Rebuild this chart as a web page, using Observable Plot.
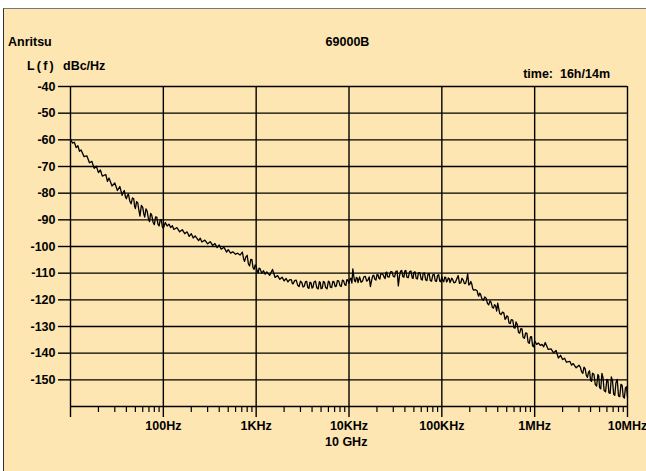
<!DOCTYPE html>
<html><head><meta charset="utf-8">
<script src="https://cdn.jsdelivr.net/npm/d3@7"></script>
<script src="https://cdn.jsdelivr.net/npm/@observablehq/plot@0.6"></script>
<style>
body{margin:0;background:#fff;width:646px;height:471px;overflow:hidden;position:relative;font-family:"Liberation Sans",Arial,Helvetica,sans-serif;}
#panel{position:absolute;left:3px;top:8px;width:643px;height:463px;background:#fde6b1;border-left:1.5px solid #333;border-top:1px solid #777;box-sizing:border-box}
.t{position:absolute;font-weight:bold;font-size:12.5px;line-height:15px;color:#000;white-space:pre}
#chart{position:absolute;left:0;top:9px}
</style></head><body>
<div id="panel"></div>
<div id="chart"></div>
<div class="t" style="left:8px;top:34.7px">Anritsu</div>
<div class="t" style="left:300px;width:95px;text-align:center;top:35.2px">69000B</div>
<div class="t" style="left:27px;top:58.7px;letter-spacing:2.2px">L(f)</div>
<div class="t" style="left:63px;top:58.7px">dBc/Hz</div>
<div class="t" style="right:36px;top:67.2px">time:  16h/14m</div>
<div class="t" style="left:325px;top:435.2px">10 GHz</div>
<script>
// Offset frequency (Hz) - main sweep points
const freqHz = [
  10,10.5,11,11.5,12,12.5,13,14,15,16,17,18,19,20,21,22,24,25,26,28,30,32,34,36,38,40,42,45,48,50,53,56,60,63,67,71,75,80,85,90,95,
  100,105,110,115,120,125,130,140,150,160,170,180,190,200,210,220,240,250,260,280,300,320,340,360,380,400,420,450,480,500,530,560,600,630,670,710,750,800,850,900,950,
  1000,1050,1100,1150,1200,1250,1300,1400,1500,1600,1700,1800,1900,2000,2100,2200,2400,2500,2600,2800,3000,3200,3400,3600,3800,4000,4200,4500,4800,5000,5300,5600,6000,6300,6700,7100,7500,8000,8500,9000,9500,
  10000,10500,11000,11500,12000,12500,13000,14000,15000,16000,17000,18000,19000,20000,21000,22000,24000,25000,26000,28000,30000,32000,34000,36000,38000,40000,42000,45000,48000,50000,53000,56000,60000,63000,67000,71000,75000,80000,85000,90000,95000,
  100000,105000,110000,115000,120000,125000,130000,140000,150000,160000,170000,180000,190000,200000,210000,220000,240000,250000,260000,280000,300000,320000,340000,360000,380000,400000,420000,450000,480000,500000,530000,560000,600000,630000,670000,710000,750000,800000,850000,900000,950000,
  1000000,1050000,1100000,1150000,1200000,1250000,1300000,1400000,1500000,1600000,1700000,1800000,1900000,2000000,2100000,2200000,2400000,2500000,2600000,2800000,3000000,3200000,3400000,3600000,3800000,4000000,4200000,4500000,4800000,5000000,5300000,5600000,6000000,6300000,6700000,7100000,7500000,8000000,8500000,9000000,9500000,
  10000000
];
// Single-sideband phase noise L(f) (dBc/Hz) at freqHz
const levelDbc = [
  -59.8,-61.2,-60.9,-62.9,-62.2,-64.3,-63.8,-66.3,-66.0,-68.6,-68.1,-70.7,-69.9,-72.3,-71.3,-73.6,-73.0,-75.6,-74.3,-77.3,-76.2,-79.0,-77.5,-80.8,-79.0,-82.1,-80.3,-84.0,-82.1,-85.8,-83.6,-88.6,-85.3,-89.0,-86.8,-90.7,-88.2,-91.8,-89.0,-92.3,-89.9,
  -93.2,-91.0,-92.3,-91.6,-92.9,-92.2,-93.6,-92.9,-94.5,-93.7,-95.2,-94.5,-96.2,-95.2,-96.8,-96.0,-97.8,-96.9,-98.3,-97.6,-99.0,-98.2,-99.6,-98.9,-100.4,-99.4,-101.0,-100.3,-102.1,-101.2,-102.5,-102.0,-102.9,-102.5,-103.2,-102.1,-105.6,-103.3,-107.3,-104.9,-108.6,
  -107.6,-109.9,-108.3,-110.0,-109.1,-110.4,-109.5,-110.8,-108.6,-111.6,-110.9,-112.3,-111.5,-112.9,-112.0,-113.3,-112.5,-114.0,-112.8,-114.5,-113.0,-115.2,-113.2,-115.4,-113.4,-115.6,-113.3,-115.5,-113.2,-115.8,-113.1,-115.4,-113.0,-115.2,-113.1,-115.0,-112.8,-114.7,-112.6,-114.3,-112.4,
  -113.8,-111.9,-108.4,-112.9,-111.6,-113.5,-111.4,-112.9,-111.2,-112.6,-115.0,-111.0,-112.3,-110.6,-111.9,-110.3,-111.6,-109.8,-111.3,-109.5,-111.2,-109.3,-114.8,-109.2,-111.3,-109.1,-111.5,-109.4,-111.8,-109.7,-112.0,-109.9,-112.3,-110.1,-112.5,-110.3,-112.7,-110.6,-112.9,-110.8,-113.0,
  -111.3,-113.2,-111.6,-112.8,-112.0,-112.9,-112.2,-113.4,-110.9,-113.6,-112.6,-113.9,-110.3,-114.2,-114.0,-116.4,-116.6,-118.6,-117.7,-120.2,-119.4,-121.9,-121.0,-123.1,-122.4,-121.2,-125.1,-124.6,-127.3,-126.0,-128.7,-127.4,-130.5,-128.3,-132.2,-130.8,-134.0,-132.4,-135.9,-133.9,-137.3,
  -135.4,-136.7,-136.2,-137.1,-136.7,-137.6,-136.0,-138.6,-138.4,-139.9,-139.0,-141.8,-140.8,-142.4,-141.9,-143.4,-143.1,-144.5,-143.9,-145.5,-144.5,-146.9,-145.2,-148.3,-147.2,-150.2,-147.5,-151.8,-148.0,-152.9,-147.6,-154.0,-149.8,-154.8,-148.9,-155.4,-151.2,-156.0,-151.7,-156.4,-153.0,
  -156.5
];
// Extra sweep points read in the noisy stretches of the trace
const extraFreqHz = [
  37,39,41,43.5,46.5,49,51.5,54.5,58,61.5,65,69,73,77.5,82.5,87.5,92.5,97.5,
  730,775,825,875,925,975,
  1025,1075,2300,2450,2700,2900,3100,3300,3500,3700,3900,4100,4350,4650,4900,5150,5450,5800,6150,6500,6900,7300,7750,8250,8750,9250,9750,
  10250,10750,11250,11750,12250,13500,14500,15500,16500,17500,18500,19500,20500,21500,23000,24500,25500,27000,29000,31000,33000,35000,37000,39000,41000,43500,46500,49000,51500,54500,58000,61500,65000,69000,73000,77500,82500,87500,92500,97500,
  102500,107500,112500,117500,122500,127500,135000,145000,155000,165000,175000,185000,195000,205000,215000,230000,245000,255000,270000,290000,310000,330000,350000,370000,390000,410000,435000,465000,490000,515000,545000,580000,615000,650000,690000,730000,775000,825000,875000,925000,975000,
  3100000,3300000,3500000,3700000,3900000,4100000,4350000,4650000,4900000,5150000,5450000,5800000,6150000,6500000,6900000,7300000,7750000,8250000,8750000,9250000,9750000
];
const extraLevelDbc = [
  -79.6,-81.3,-80.9,-82.9,-81.8,-84.9,-83.2,-86.4,-84.6,-87.7,-85.9,-89.5,-87.6,-90.9,-88.9,-91.6,-90.1,-92.6,
  -104.4,-103.9,-106.5,-104.8,-107.9,-106.9,
  -109.2,-108.1,-112.4,-113.9,-112.6,-115.0,-113.5,-114.9,-113.1,-115.7,-113.6,-115.2,-113.0,-115.9,-113.5,-115.6,-113.4,-115.9,-113.3,-115.4,-113.3,-114.9,-112.9,-115.0,-112.9,-114.6,-112.7,
  -112.2,-113.7,-111.1,-113.2,-111.8,-113.4,-111.3,-113.0,-111.4,-112.8,-110.8,-112.6,-110.6,-112.2,-110.2,-112.0,-109.6,-111.5,-109.4,-111.4,-109.2,-111.0,-109.0,-111.5,-109.0,-111.7,-109.2,-112.0,-109.5,-112.2,-109.8,-112.6,-109.9,-112.8,-110.1,-113.0,-110.4,-113.1,-110.6,-113.2,
  -112.8,-111.5,-113.3,-111.8,-113.5,-111.9,-113.6,-112.1,-113.8,-111.9,-113.9,-112.4,-114.4,-113.1,-115.8,-116.2,-118.0,-117.5,-119.6,-118.9,-121.3,-120.4,-122.8,-121.8,-124.2,-123.2,-125.5,-124.9,-127.0,-126.3,-128.9,-127.6,-130.6,-129.3,-132.5,-130.9,-134.4,-132.6,-136.3,-133.8,-137.6,
  -145.2,-147.6,-145.9,-149.1,-146.6,-150.6,-147.9,-152.3,-148.6,-153.4,-149.2,-154.5,-150.1,-155.1,-150.6,-155.8,-149.8,-156.3,-152.0,-156.8,-152.6
];
const yTickValues = [-150,-140,-130,-120,-110,-100,-90,-80,-70,-60,-50,-40];
const yGridValues = [-160,-150,-140,-130,-120,-110,-100,-90,-80,-70,-60,-50,-40];
const xMajorTicks = [10,100,1000,10000,100000,1000000,10000000];
const xTickLabels = ["","100Hz","1KHz","10KHz","100KHz","1MHz","10MHz"];
const xMinorTicks = [
  20,30,40,50,60,70,80,90,
  200,300,400,500,600,700,800,900,
  2000,3000,4000,5000,6000,7000,8000,9000,
  20000,30000,40000,50000,60000,70000,80000,90000,
  200000,300000,400000,500000,600000,700000,800000,900000,
  2000000,3000000,4000000,5000000,6000000,7000000,8000000,9000000
];

const data = freqHz.map((f, i) => ({f, v: levelDbc[i]}))
  .concat(extraFreqHz.map((f, i) => ({f, v: extraLevelDbc[i]})))
  .sort((a, b) => a.f - b.f);

const chart = Plot.plot({
  width: 646,
  height: 462,
  marginLeft: 70,
  marginRight: 19,
  marginTop: 77,
  marginBottom: 65,
  style: {background: "transparent", fontFamily: "'Liberation Sans', Arial, sans-serif", fontSize: "12.5px", fontWeight: "bold", color: "#000"},
  x: {type: "log", domain: [10, 1e7]},
  y: {domain: [-160, -40]},
  marks: [
    Plot.ruleY(yGridValues, {x1: 10, x2: 1e7, stroke: "#000", strokeWidth: 1.4}),
    Plot.ruleX(xMajorTicks, {y1: -160, y2: -40, stroke: "#000", strokeWidth: 1.4}),
    Plot.axisY(yTickValues, {tickSize: 12, tickPadding: 3, tickFormat: d => String(d), label: null, stroke: "#000", strokeWidth: 1.4, fill: "#000"}),
    Plot.axisX(xMinorTicks, {tickSize: 6, tickFormat: () => "", label: null, stroke: "#000", strokeWidth: 1.2}),
    Plot.axisX(xMajorTicks, {tickSize: 11, tickPadding: 4, tickFormat: d => xTickLabels[xMajorTicks.indexOf(d)], label: null, stroke: "#000", strokeWidth: 1.4, fill: "#000"}),
    Plot.line(data, {x: "f", y: "v", stroke: "#000", strokeWidth: 1.3})
  ]
});
document.getElementById("chart").appendChild(chart);
</script>
</body></html>
